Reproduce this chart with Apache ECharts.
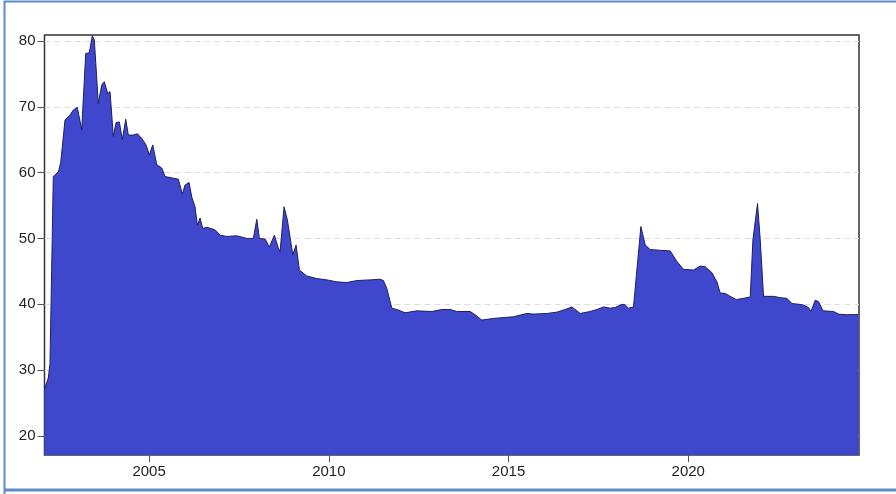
<!DOCTYPE html>
<html style="height: 100%">
  <head>
    <meta charset="UTF-8" />
    <title>Area series</title>
    <script src="https://cdn.jsdelivr.net/npm/echarts@6/dist/echarts.min.js"></script>
  </head>
  <body style="height: 100%; margin: 0; background: #fff">
    <div id="main" style="width: 896px; height: 494px"></div>
    <script>
      // decimal years and values
      const years = [
        2002.09, 2002.196, 2002.243, 2002.335, 2002.474, 2002.541, 2002.596, 2002.661, 2002.8, 2002.891,
        2003.003, 2003.125, 2003.237, 2003.337, 2003.42, 2003.476, 2003.587, 2003.682, 2003.754, 2003.849,
        2003.913, 2004.005, 2004.08, 2004.172, 2004.255, 2004.35, 2004.422, 2004.561, 2004.673, 2004.795,
        2004.915, 2005.007, 2005.101, 2005.213, 2005.352, 2005.444, 2005.63, 2005.814, 2005.925, 2006.0,
        2006.111, 2006.187, 2006.278, 2006.342, 2006.418, 2006.493, 2006.604, 2006.835, 2006.974, 2007.161,
        2007.439, 2007.717, 2007.901, 2007.996, 2008.068, 2008.227, 2008.346, 2008.485, 2008.597, 2008.644,
        2008.755, 2008.847, 2008.997, 2009.089, 2009.181, 2009.387, 2009.665, 2009.944, 2010.222, 2010.5,
        2010.779, 2011.149, 2011.427, 2011.519, 2011.613, 2011.753, 2011.892, 2012.123, 2012.448, 2012.866,
        2013.144, 2013.375, 2013.562, 2013.932, 2014.071, 2014.257, 2014.58, 2015.137, 2015.51, 2015.693,
        2016.066, 2016.345, 2016.576, 2016.762, 2016.993, 2017.271, 2017.458, 2017.642, 2017.828, 2017.967,
        2018.154, 2018.245, 2018.337, 2018.476, 2018.682, 2018.802, 2018.941, 2019.219, 2019.498, 2019.684,
        2019.868, 2020.146, 2020.333, 2020.471, 2020.658, 2020.797, 2020.889, 2021.028, 2021.168, 2021.335,
        2021.537, 2021.724, 2021.799, 2021.927, 2022.002, 2022.094, 2022.372, 2022.559, 2022.745, 2022.885,
        2023.068, 2023.191, 2023.347, 2023.413, 2023.533, 2023.625, 2023.747, 2024.042, 2024.181, 2024.416,
        2024.738
      ]
      const values = [
        27.1, 28.8, 31, 59.4, 60.1, 61.5, 61.7, 68.0, 68.75, 69.5,
        69.9, 66.5, 78.1, 78.2, 80.8, 80.15, 70.5, 73.3, 73.8, 72.0,
        72.3, 65.5, 67.6, 67.7, 65.0, 68.1, 65.7, 65.7, 65.9, 65.2,
        64.2, 62.7, 64.2, 61.2, 60.7, 59.4, 59.2, 59.0, 56.75, 58.1,
        58.5, 56.3, 54.8, 52.0, 53.1, 51.5, 51.7, 51.3, 50.5, 50.3,
        50.4, 50.0, 50.0, 52.9, 50.0, 49.9, 48.7, 50.5, 48.5, 48.0,
        54.8, 52.8, 47.5, 49.0, 45.2, 44.3, 43.9, 43.7, 43.4, 43.3,
        43.6, 43.7, 43.8, 43.6, 42.4, 39.4, 39.2, 38.7, 39.0, 38.9,
        39.2, 39.2, 38.9, 38.9, 38.4, 37.6, 37.85, 38.1, 38.6, 38.5,
        38.6, 38.8, 39.2, 39.6, 38.6, 38.9, 39.2, 39.6, 39.4, 39.5,
        40.0, 39.9, 39.4, 39.6, 51.8, 49.0, 48.3, 48.2, 48.1, 46.5,
        45.3, 45.2, 45.8, 45.7, 44.8, 43.4, 41.7, 41.65, 41.2, 40.7,
        40.9, 41.1, 49.8, 55.3, 49.8, 41.2, 41.2, 41.0, 40.9, 40.1,
        40.0, 39.9, 39.5, 38.9, 40.6, 40.4, 39.0, 38.9, 38.5, 38.4,
        38.45
      ]
      const xTicks = [2005, 2010, 2015, 2020]
      const yTicks = [20, 30, 40, 50, 60, 70, 80]

      const chart = echarts.init(document.getElementById('main'))

      const seriesData = years.map((y, i) => [y, values[i]])

      const option = {
        animation: false,
        grid: {
          left: 44.5,
          right: 37,
          top: 35,
          bottom: 39,
          show: true,
          borderColor: '#333',
          borderWidth: 1.5,
        },
        xAxis: {
          type: 'value',
          min: 2002.09,
          max: 2024.75,
          axisLine: { show: false },
          splitLine: { show: false },
          axisTick: {
            show: true,
            length: 7,
            customValues: xTicks,
            lineStyle: { color: '#555' },
          },
          axisLabel: {
            customValues: xTicks,
            formatter: (v) => String(v),
            color: '#222',
            fontSize: 15,
            fontFamily: 'Liberation Sans',
            margin: 9,
          },
        },
        yAxis: {
          type: 'value',
          min: 17.1,
          max: 80.9,
          axisLine: { show: false },
          axisTick: {
            show: true,
            length: 7,
            customValues: yTicks,
            lineStyle: { color: '#555' },
          },
          axisLabel: {
            customValues: yTicks,
            color: '#222',
            fontSize: 15,
            fontFamily: 'Liberation Sans',
            margin: 9,
          },
          splitLine: {
            show: true,
            lineStyle: { color: '#ddd', type: [6, 4] },
          },
        },
        series: [
          {
            type: 'line',
            data: seriesData,
            symbol: 'none',
            z: 3,
            lineStyle: { color: '#1e2060', width: 1 },
            areaStyle: { color: '#3f48cc', opacity: 1 },
          },
        ],
        graphic: [
          {
            type: 'polyline',
            shape: { points: [[4.5, 494], [4.5, 1.5], [896, 1.5]] },
            style: { stroke: '#5b8cc8', lineWidth: 2, fill: null },
          },
          {
            type: 'line',
            shape: { x1: 4, y1: 490, x2: 896, y2: 490 },
            style: { stroke: '#5b8cc8', lineWidth: 3 },
          },
        ],
      }

      chart.setOption(option)
    </script>
  </body>
</html>
